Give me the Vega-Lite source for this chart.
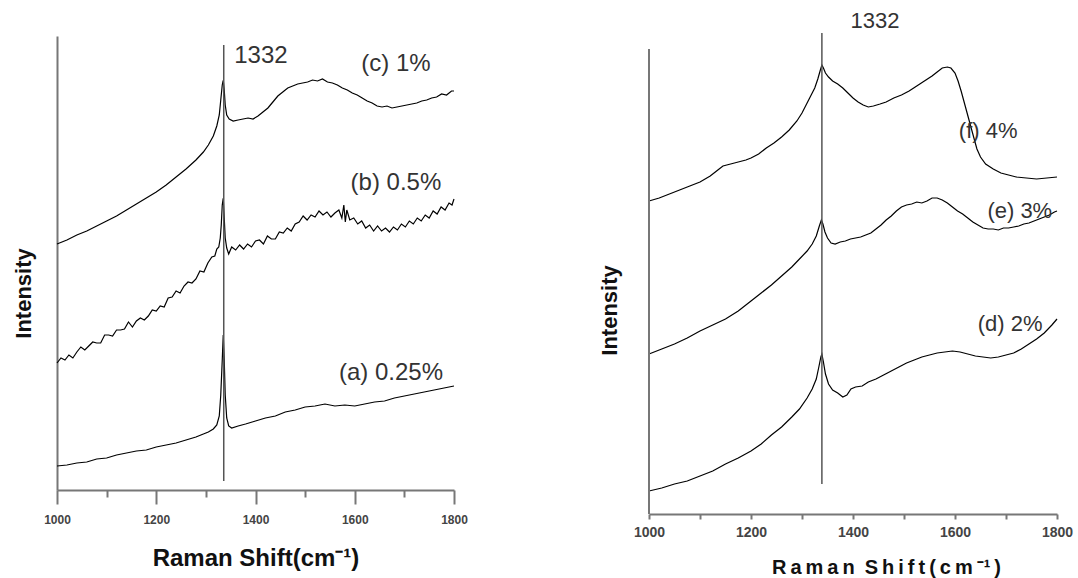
{
  "$schema": "https://vega.github.io/schema/vega-lite/v6.json",
  "background": "white",
  "padding": {"left": 12, "top": 9, "right": 5, "bottom": 5},
  "spacing": 130,
  "config": {
    "view": {"stroke": null},
    "axis": {"grid": false, "domainColor": "#777", "tickColor": "#777", "domainWidth": 2, "tickWidth": 2,
      "labelColor": "#444", "labelFontWeight": "bold", "labelFont": "Liberation Sans", "labelFlush": false,
      "titleFont": "Liberation Sans", "titleFontWeight": "bold", "titleColor": "#111"},
    "text": {"font": "Liberation Sans"}
  },
  "datasets": {
    "left": [
      {"s":"a","x":1000,"y":24},{"s":"a","x":1020,"y":25},{"s":"a","x":1040,"y":27},{"s":"a","x":1060,"y":28},{"s":"a","x":1080,"y":31},{"s":"a","x":1100,"y":32},{"s":"a","x":1120,"y":35},{"s":"a","x":1140,"y":37},{"s":"a","x":1160,"y":39},{"s":"a","x":1180,"y":40},{"s":"a","x":1200,"y":43},{"s":"a","x":1220,"y":45},{"s":"a","x":1240,"y":47},{"s":"a","x":1260,"y":50},{"s":"a","x":1280,"y":53},{"s":"a","x":1295,"y":56},{"s":"a","x":1305,"y":58},{"s":"a","x":1315,"y":61},{"s":"a","x":1322,"y":65},{"s":"a","x":1327,"y":74},{"s":"a","x":1330,"y":95},{"s":"a","x":1333,"y":130},{"s":"a","x":1335,"y":155},{"s":"a","x":1337,"y":130},{"s":"a","x":1339,"y":95},{"s":"a","x":1342,"y":72},{"s":"a","x":1346,"y":64},{"s":"a","x":1352,"y":62},{"s":"a","x":1365,"y":64},{"s":"a","x":1380,"y":66},{"s":"a","x":1400,"y":69},{"s":"a","x":1420,"y":72},{"s":"a","x":1440,"y":74},{"s":"a","x":1460,"y":78},{"s":"a","x":1480,"y":80},{"s":"a","x":1500,"y":83},{"s":"a","x":1520,"y":84},{"s":"a","x":1540,"y":86},{"s":"a","x":1560,"y":84},{"s":"a","x":1580,"y":85},{"s":"a","x":1600,"y":84},{"s":"a","x":1620,"y":86},{"s":"a","x":1640,"y":88},{"s":"a","x":1660,"y":89},{"s":"a","x":1680,"y":92},{"s":"a","x":1700,"y":94},{"s":"a","x":1720,"y":96},{"s":"a","x":1740,"y":98},{"s":"a","x":1760,"y":100},{"s":"a","x":1780,"y":102},{"s":"a","x":1800,"y":104},
      {"s":"b","x":1000,"y":127},{"s":"b","x":1008,"y":132},{"s":"b","x":1016,"y":130},{"s":"b","x":1024,"y":135},{"s":"b","x":1032,"y":132},{"s":"b","x":1040,"y":138},{"s":"b","x":1048,"y":143},{"s":"b","x":1056,"y":140},{"s":"b","x":1064,"y":144},{"s":"b","x":1072,"y":148},{"s":"b","x":1080,"y":147},{"s":"b","x":1088,"y":147},{"s":"b","x":1096,"y":155},{"s":"b","x":1104,"y":155},{"s":"b","x":1112,"y":154},{"s":"b","x":1120,"y":160},{"s":"b","x":1128,"y":160},{"s":"b","x":1136,"y":161},{"s":"b","x":1144,"y":168},{"s":"b","x":1152,"y":163},{"s":"b","x":1160,"y":169},{"s":"b","x":1168,"y":172},{"s":"b","x":1176,"y":170},{"s":"b","x":1184,"y":174},{"s":"b","x":1192,"y":180},{"s":"b","x":1200,"y":179},{"s":"b","x":1208,"y":184},{"s":"b","x":1216,"y":183},{"s":"b","x":1224,"y":192},{"s":"b","x":1232,"y":193},{"s":"b","x":1240,"y":199},{"s":"b","x":1248,"y":197},{"s":"b","x":1256,"y":204},{"s":"b","x":1264,"y":208},{"s":"b","x":1272,"y":207},{"s":"b","x":1280,"y":211},{"s":"b","x":1288,"y":219},{"s":"b","x":1296,"y":218},{"s":"b","x":1304,"y":227},{"s":"b","x":1312,"y":233},{"s":"b","x":1318,"y":234},{"s":"b","x":1322,"y":241},{"s":"b","x":1326,"y":243},{"s":"b","x":1329,"y":252},{"s":"b","x":1331,"y":265},{"s":"b","x":1333,"y":285},{"s":"b","x":1335,"y":292},{"s":"b","x":1337,"y":272},{"s":"b","x":1339,"y":252},{"s":"b","x":1342,"y":242},{"s":"b","x":1346,"y":236},{"s":"b","x":1352,"y":243},{"s":"b","x":1360,"y":240},{"s":"b","x":1368,"y":245},{"s":"b","x":1376,"y":241},{"s":"b","x":1384,"y":246},{"s":"b","x":1392,"y":243},{"s":"b","x":1400,"y":249},{"s":"b","x":1408,"y":250},{"s":"b","x":1416,"y":246},{"s":"b","x":1424,"y":254},{"s":"b","x":1432,"y":251},{"s":"b","x":1440,"y":251},{"s":"b","x":1448,"y":258},{"s":"b","x":1456,"y":257},{"s":"b","x":1464,"y":262},{"s":"b","x":1472,"y":259},{"s":"b","x":1480,"y":266},{"s":"b","x":1488,"y":268},{"s":"b","x":1496,"y":274},{"s":"b","x":1504,"y":270},{"s":"b","x":1512,"y":275},{"s":"b","x":1520,"y":273},{"s":"b","x":1528,"y":279},{"s":"b","x":1536,"y":275},{"s":"b","x":1544,"y":278},{"s":"b","x":1552,"y":273},{"s":"b","x":1560,"y":277},{"s":"b","x":1568,"y":280},{"s":"b","x":1574,"y":272},{"s":"b","x":1578,"y":285},{"s":"b","x":1581,"y":268},{"s":"b","x":1584,"y":280},{"s":"b","x":1590,"y":270},{"s":"b","x":1598,"y":272},{"s":"b","x":1606,"y":266},{"s":"b","x":1614,"y":269},{"s":"b","x":1622,"y":262},{"s":"b","x":1630,"y":265},{"s":"b","x":1638,"y":259},{"s":"b","x":1646,"y":264},{"s":"b","x":1654,"y":259},{"s":"b","x":1662,"y":262},{"s":"b","x":1670,"y":258},{"s":"b","x":1678,"y":263},{"s":"b","x":1686,"y":260},{"s":"b","x":1694,"y":266},{"s":"b","x":1702,"y":263},{"s":"b","x":1710,"y":269},{"s":"b","x":1718,"y":266},{"s":"b","x":1726,"y":272},{"s":"b","x":1734,"y":269},{"s":"b","x":1742,"y":275},{"s":"b","x":1750,"y":272},{"s":"b","x":1758,"y":279},{"s":"b","x":1766,"y":276},{"s":"b","x":1774,"y":283},{"s":"b","x":1782,"y":280},{"s":"b","x":1790,"y":287},{"s":"b","x":1796,"y":285},{"s":"b","x":1800,"y":291},
      {"s":"c","x":1000,"y":246},{"s":"c","x":1020,"y":250},{"s":"c","x":1040,"y":255},{"s":"c","x":1060,"y":259},{"s":"c","x":1080,"y":264},{"s":"c","x":1100,"y":269},{"s":"c","x":1120,"y":274},{"s":"c","x":1140,"y":280},{"s":"c","x":1160,"y":286},{"s":"c","x":1180,"y":292},{"s":"c","x":1200,"y":298},{"s":"c","x":1220,"y":305},{"s":"c","x":1240,"y":313},{"s":"c","x":1260,"y":321},{"s":"c","x":1280,"y":330},{"s":"c","x":1295,"y":338},{"s":"c","x":1305,"y":345},{"s":"c","x":1315,"y":354},{"s":"c","x":1322,"y":364},{"s":"c","x":1327,"y":375},{"s":"c","x":1330,"y":390},{"s":"c","x":1333,"y":405},{"s":"c","x":1335,"y":410},{"s":"c","x":1337,"y":400},{"s":"c","x":1339,"y":385},{"s":"c","x":1342,"y":375},{"s":"c","x":1347,"y":371},{"s":"c","x":1355,"y":369},{"s":"c","x":1365,"y":370},{"s":"c","x":1375,"y":371},{"s":"c","x":1385,"y":372},{"s":"c","x":1395,"y":371},{"s":"c","x":1405,"y":374},{"s":"c","x":1415,"y":378},{"s":"c","x":1425,"y":382},{"s":"c","x":1435,"y":388},{"s":"c","x":1445,"y":394},{"s":"c","x":1455,"y":398},{"s":"c","x":1465,"y":402},{"s":"c","x":1475,"y":404},{"s":"c","x":1485,"y":406},{"s":"c","x":1495,"y":407},{"s":"c","x":1505,"y":408},{"s":"c","x":1515,"y":410},{"s":"c","x":1525,"y":409},{"s":"c","x":1535,"y":411},{"s":"c","x":1545,"y":408},{"s":"c","x":1555,"y":407},{"s":"c","x":1565,"y":405},{"s":"c","x":1575,"y":402},{"s":"c","x":1585,"y":400},{"s":"c","x":1595,"y":397},{"s":"c","x":1605,"y":395},{"s":"c","x":1615,"y":392},{"s":"c","x":1625,"y":389},{"s":"c","x":1635,"y":387},{"s":"c","x":1645,"y":384},{"s":"c","x":1655,"y":383},{"s":"c","x":1665,"y":384},{"s":"c","x":1675,"y":382},{"s":"c","x":1685,"y":383},{"s":"c","x":1695,"y":384},{"s":"c","x":1705,"y":385},{"s":"c","x":1715,"y":386},{"s":"c","x":1725,"y":387},{"s":"c","x":1735,"y":389},{"s":"c","x":1745,"y":390},{"s":"c","x":1755,"y":392},{"s":"c","x":1765,"y":393},{"s":"c","x":1775,"y":396},{"s":"c","x":1785,"y":395},{"s":"c","x":1795,"y":399},{"s":"c","x":1800,"y":399}
    ],
    "right": [
      {"s":"d","x":1000,"y":23},{"s":"d","x":1025,"y":26},{"s":"d","x":1050,"y":30},{"s":"d","x":1075,"y":33},{"s":"d","x":1100,"y":38},{"s":"d","x":1125,"y":43},{"s":"d","x":1150,"y":50},{"s":"d","x":1175,"y":56},{"s":"d","x":1200,"y":63},{"s":"d","x":1220,"y":70},{"s":"d","x":1240,"y":79},{"s":"d","x":1260,"y":87},{"s":"d","x":1280,"y":97},{"s":"d","x":1295,"y":105},{"s":"d","x":1310,"y":116},{"s":"d","x":1320,"y":125},{"s":"d","x":1328,"y":135},{"s":"d","x":1333,"y":147},{"s":"d","x":1337,"y":157},{"s":"d","x":1339,"y":160},{"s":"d","x":1342,"y":152},{"s":"d","x":1346,"y":140},{"s":"d","x":1352,"y":130},{"s":"d","x":1360,"y":124},{"s":"d","x":1370,"y":121},{"s":"d","x":1380,"y":117},{"s":"d","x":1388,"y":119},{"s":"d","x":1396,"y":125},{"s":"d","x":1405,"y":127},{"s":"d","x":1418,"y":128},{"s":"d","x":1430,"y":132},{"s":"d","x":1445,"y":135},{"s":"d","x":1460,"y":139},{"s":"d","x":1475,"y":143},{"s":"d","x":1490,"y":147},{"s":"d","x":1505,"y":151},{"s":"d","x":1520,"y":154},{"s":"d","x":1535,"y":157},{"s":"d","x":1550,"y":159},{"s":"d","x":1565,"y":161},{"s":"d","x":1580,"y":162},{"s":"d","x":1595,"y":163},{"s":"d","x":1610,"y":162},{"s":"d","x":1625,"y":160},{"s":"d","x":1640,"y":158},{"s":"d","x":1655,"y":157},{"s":"d","x":1670,"y":156},{"s":"d","x":1685,"y":157},{"s":"d","x":1700,"y":159},{"s":"d","x":1715,"y":161},{"s":"d","x":1730,"y":165},{"s":"d","x":1745,"y":170},{"s":"d","x":1760,"y":175},{"s":"d","x":1775,"y":181},{"s":"d","x":1790,"y":189},{"s":"d","x":1800,"y":195},
      {"s":"e","x":1000,"y":160},{"s":"e","x":1025,"y":165},{"s":"e","x":1050,"y":170},{"s":"e","x":1075,"y":176},{"s":"e","x":1100,"y":183},{"s":"e","x":1125,"y":189},{"s":"e","x":1150,"y":195},{"s":"e","x":1175,"y":203},{"s":"e","x":1200,"y":213},{"s":"e","x":1220,"y":221},{"s":"e","x":1240,"y":229},{"s":"e","x":1260,"y":238},{"s":"e","x":1280,"y":247},{"s":"e","x":1295,"y":255},{"s":"e","x":1310,"y":263},{"s":"e","x":1320,"y":270},{"s":"e","x":1328,"y":278},{"s":"e","x":1334,"y":288},{"s":"e","x":1338,"y":294},{"s":"e","x":1341,"y":290},{"s":"e","x":1345,"y":282},{"s":"e","x":1350,"y":276},{"s":"e","x":1357,"y":271},{"s":"e","x":1365,"y":270},{"s":"e","x":1375,"y":272},{"s":"e","x":1385,"y":273},{"s":"e","x":1395,"y":275},{"s":"e","x":1405,"y":276},{"s":"e","x":1415,"y":277},{"s":"e","x":1425,"y":279},{"s":"e","x":1435,"y":281},{"s":"e","x":1445,"y":285},{"s":"e","x":1455,"y":289},{"s":"e","x":1465,"y":294},{"s":"e","x":1475,"y":298},{"s":"e","x":1485,"y":303},{"s":"e","x":1495,"y":307},{"s":"e","x":1505,"y":309},{"s":"e","x":1515,"y":310},{"s":"e","x":1525,"y":312},{"s":"e","x":1535,"y":311},{"s":"e","x":1545,"y":313},{"s":"e","x":1555,"y":316},{"s":"e","x":1565,"y":316},{"s":"e","x":1575,"y":314},{"s":"e","x":1585,"y":311},{"s":"e","x":1595,"y":307},{"s":"e","x":1605,"y":303},{"s":"e","x":1615,"y":300},{"s":"e","x":1625,"y":296},{"s":"e","x":1635,"y":292},{"s":"e","x":1645,"y":289},{"s":"e","x":1655,"y":286},{"s":"e","x":1665,"y":285},{"s":"e","x":1675,"y":285},{"s":"e","x":1685,"y":284},{"s":"e","x":1695,"y":286},{"s":"e","x":1705,"y":286},{"s":"e","x":1715,"y":287},{"s":"e","x":1725,"y":288},{"s":"e","x":1735,"y":290},{"s":"e","x":1745,"y":291},{"s":"e","x":1755,"y":293},{"s":"e","x":1765,"y":295},{"s":"e","x":1775,"y":297},{"s":"e","x":1785,"y":299},{"s":"e","x":1795,"y":302},{"s":"e","x":1800,"y":303},
      {"s":"f","x":1000,"y":313},{"s":"f","x":1020,"y":316},{"s":"f","x":1040,"y":320},{"s":"f","x":1060,"y":324},{"s":"f","x":1080,"y":328},{"s":"f","x":1100,"y":332},{"s":"f","x":1120,"y":338},{"s":"f","x":1135,"y":344},{"s":"f","x":1145,"y":348},{"s":"f","x":1160,"y":350},{"s":"f","x":1175,"y":352},{"s":"f","x":1190,"y":354},{"s":"f","x":1200,"y":356},{"s":"f","x":1215,"y":360},{"s":"f","x":1230,"y":366},{"s":"f","x":1245,"y":371},{"s":"f","x":1260,"y":377},{"s":"f","x":1275,"y":384},{"s":"f","x":1290,"y":393},{"s":"f","x":1300,"y":401},{"s":"f","x":1310,"y":411},{"s":"f","x":1318,"y":419},{"s":"f","x":1325,"y":426},{"s":"f","x":1331,"y":435},{"s":"f","x":1336,"y":444},{"s":"f","x":1339,"y":449},{"s":"f","x":1342,"y":446},{"s":"f","x":1346,"y":441},{"s":"f","x":1352,"y":437},{"s":"f","x":1360,"y":433},{"s":"f","x":1370,"y":430},{"s":"f","x":1380,"y":426},{"s":"f","x":1390,"y":421},{"s":"f","x":1400,"y":416},{"s":"f","x":1410,"y":412},{"s":"f","x":1420,"y":409},{"s":"f","x":1430,"y":407},{"s":"f","x":1440,"y":408},{"s":"f","x":1453,"y":410},{"s":"f","x":1465,"y":412},{"s":"f","x":1480,"y":416},{"s":"f","x":1495,"y":419},{"s":"f","x":1510,"y":423},{"s":"f","x":1525,"y":428},{"s":"f","x":1540,"y":433},{"s":"f","x":1555,"y":438},{"s":"f","x":1565,"y":442},{"s":"f","x":1575,"y":446},{"s":"f","x":1585,"y":447},{"s":"f","x":1592,"y":446},{"s":"f","x":1600,"y":441},{"s":"f","x":1606,"y":433},{"s":"f","x":1612,"y":423},{"s":"f","x":1620,"y":408},{"s":"f","x":1628,"y":393},{"s":"f","x":1636,"y":378},{"s":"f","x":1643,"y":365},{"s":"f","x":1650,"y":357},{"s":"f","x":1660,"y":350},{"s":"f","x":1675,"y":345},{"s":"f","x":1690,"y":341},{"s":"f","x":1705,"y":339},{"s":"f","x":1720,"y":337},{"s":"f","x":1740,"y":336},{"s":"f","x":1760,"y":335},{"s":"f","x":1780,"y":336},{"s":"f","x":1800,"y":337}
    ],
    "leftRule": [{"x": 1336, "y": 9, "y2": 445}],
    "rightRule": [{"x": 1339, "y": 30, "y2": 481}],
    "rightAxis": [{"x": 1000, "y": 0, "y2": 465}],
    "leftText": [
      {"x": 1411, "y": 434, "t": "1332"},
      {"x": 1683, "y": 426, "t": "(c) 1%"},
      {"x": 1683, "y": 307, "t": "(b) 0.5%"},
      {"x": 1673, "y": 117, "t": "(a) 0.25%"}
    ],
    "rightText": [
      {"x": 1443, "y": 493, "t": "1332"},
      {"x": 1665, "y": 383, "t": "(f) 4%"},
      {"x": 1727, "y": 303, "t": "(e) 3%"},
      {"x": 1708, "y": 190, "t": "(d) 2%"}
    ]
  },
  "hconcat": [
    {
      "width": 397,
      "height": 454,
      "layer": [
        {
          "data": {"name": "left"},
          "mark": {"type": "line", "color": "black", "strokeWidth": 1.2},
          "encoding": {
            "x": {"field": "x", "type": "quantitative", "scale": {"domain": [1000, 1800], "nice": false, "zero": false},
              "axis": {"values": [1000, 1100, 1200, 1300, 1400, 1500, 1600, 1700, 1800], "format": "d",
                "labelExpr": "datum.value % 200 == 0 ? datum.label : ''",
                "tickSize": {"condition": {"test": "datum.value % 200 == 0", "value": 14}, "value": 7},
                "labelPadding": 10, "labelFontSize": 12,
                "title": "Raman Shift(cm⁻¹)", "titleFontSize": 24, "titlePadding": 21}},
            "y": {"field": "y", "type": "quantitative", "scale": {"domain": [0, 454], "nice": false, "zero": false},
              "axis": {"title": "Intensity", "ticks": false, "labels": false, "titleFontSize": 22, "titlePadding": 22, "titleY": 257}},
            "detail": {"field": "s"}
          }
        },
        {
          "data": {"name": "leftRule"},
          "mark": {"type": "rule", "color": "#555", "strokeWidth": 1.5},
          "encoding": {"x": {"field": "x", "type": "quantitative"}, "y": {"field": "y", "type": "quantitative"}, "y2": {"field": "y2"}}
        },
        {
          "data": {"name": "leftText"},
          "mark": {"type": "text", "fontSize": 24, "color": "#333", "align": "center", "baseline": "middle"},
          "encoding": {"x": {"field": "x", "type": "quantitative"}, "y": {"field": "y", "type": "quantitative"}, "text": {"field": "t"}}
        }
      ]
    },
    {
      "width": 408,
      "height": 478,
      "layer": [
        {
          "data": {"name": "right"},
          "mark": {"type": "line", "color": "black", "strokeWidth": 1.2},
          "encoding": {
            "x": {"field": "x", "type": "quantitative", "scale": {"domain": [1000, 1800], "nice": false, "zero": false},
              "axis": {"values": [1000, 1100, 1200, 1300, 1400, 1500, 1600, 1700, 1800], "format": "d",
                "labelExpr": "datum.value % 200 == 0 ? datum.label : ''",
                "tickSize": 5, "labelPadding": 6, "labelFontSize": 14,
                "title": "R\u2009a\u2009m\u2009a\u2009n\u2002S\u2009h\u2009i\u2009f\u2009t\u2009(\u2009c\u2009m\u2009⁻¹\u2009)", "titleFontSize": 20, "titlePadding": 18, "titleX": 237}},
            "y": {"field": "y", "type": "quantitative", "scale": {"domain": [0, 478], "nice": false, "zero": false},
              "axis": {"title": "Intensity", "ticks": false, "labels": false, "domain": false, "titleFontSize": 22, "titlePadding": 28, "titleY": 274}},
            "detail": {"field": "s"}
          }
        },
        {
          "data": {"name": "rightAxis"},
          "mark": {"type": "rule", "color": "#777", "strokeWidth": 2},
          "encoding": {"x": {"field": "x", "type": "quantitative"}, "y": {"field": "y", "type": "quantitative"}, "y2": {"field": "y2"}}
        },
        {
          "data": {"name": "rightRule"},
          "mark": {"type": "rule", "color": "#555", "strokeWidth": 1.5},
          "encoding": {"x": {"field": "x", "type": "quantitative"}, "y": {"field": "y", "type": "quantitative"}, "y2": {"field": "y2"}}
        },
        {
          "data": {"name": "rightText"},
          "mark": {"type": "text", "fontSize": 22, "color": "#333", "align": "center", "baseline": "middle"},
          "encoding": {"x": {"field": "x", "type": "quantitative"}, "y": {"field": "y", "type": "quantitative"}, "text": {"field": "t"}}
        }
      ]
    }
  ]
}
